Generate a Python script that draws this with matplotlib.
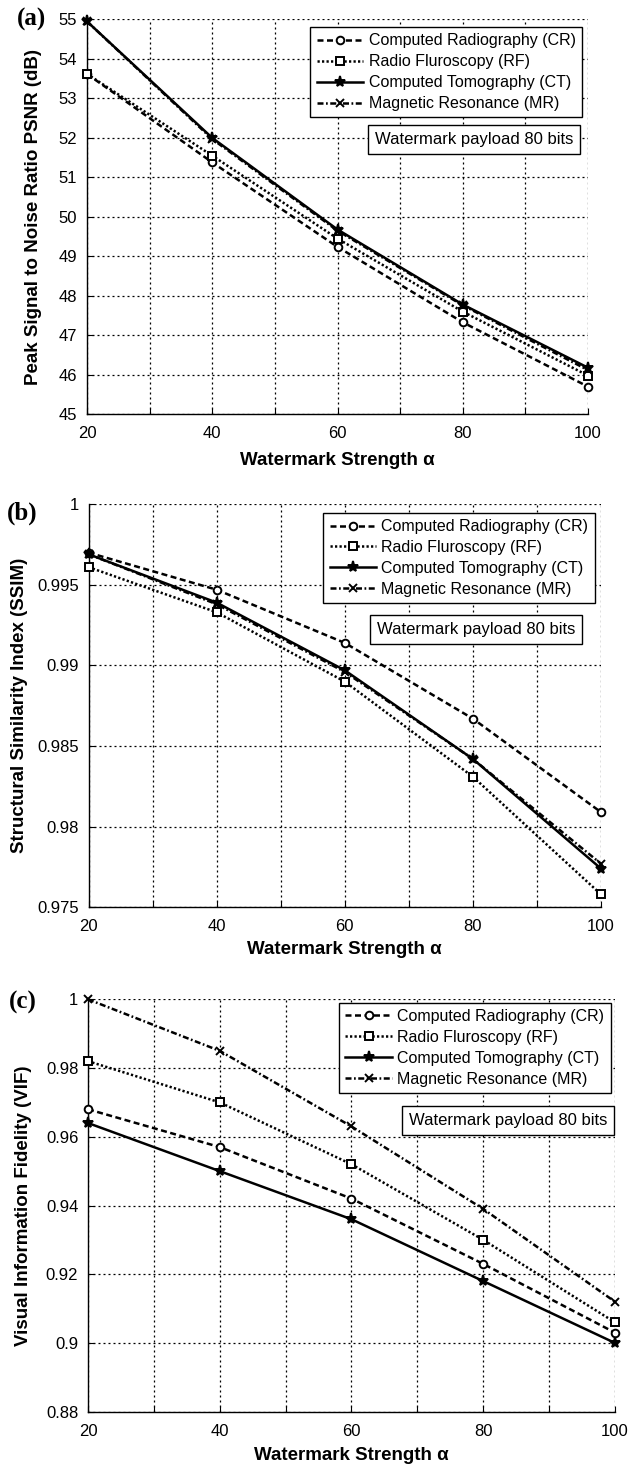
import matplotlib
matplotlib.use("Agg")
import matplotlib.pyplot as plt
from matplotlib.ticker import MultipleLocator, FuncFormatter

plt.rcParams['font.family'] = ['Liberation Sans', 'DejaVu Sans']

alpha = [20, 40, 60, 80, 100]

series_names = ["Computed Radiography (CR)", "Radio Fluroscopy (RF)",
                "Computed Tomography (CT)", "Magnetic Resonance (MR)"]

psnr_cr = [53.62, 51.38, 49.24, 47.33, 45.7]
psnr_rf = [53.62, 51.55, 49.45, 47.6, 45.98]
psnr_ct = [54.95, 52.0, 49.68, 47.78, 46.18]
psnr_mr = [54.95, 51.97, 49.65, 47.76, 46.12]

ssim_cr = [0.9970, 0.9947, 0.9914, 0.9867, 0.9809]
ssim_rf = [0.9961, 0.9933, 0.9890, 0.9831, 0.9758]
ssim_ct = [0.9969, 0.9939, 0.9897, 0.9842, 0.9774]
ssim_mr = [0.9969, 0.9938, 0.9896, 0.9842, 0.9777]

vif_cr = [0.968, 0.957, 0.942, 0.923, 0.903]
vif_rf = [0.982, 0.970, 0.952, 0.930, 0.906]
vif_ct = [0.964, 0.950, 0.936, 0.918, 0.900]
vif_mr = [1.000, 0.985, 0.963, 0.939, 0.912]

styles = [
    dict(linestyle=(0, (2.4, 1.4)), marker='o', markersize=5.5, markerfacecolor='white'),
    dict(linestyle=(0, (0.9, 0.9)), marker='s', markersize=6, markerfacecolor='white'),
    dict(linestyle='-', marker='*', markersize=8, markerfacecolor='black'),
    dict(linestyle=(0, (2.4, 1.0, 0.7, 1.0)), marker='x', markersize=6),
]

fig = plt.figure(figsize=(6.39, 14.65), dpi=100)

panels = [
    dict(rect=[0.1362, 0.7172, 0.784, 0.2695], data=[psnr_cr, psnr_rf, psnr_ct, psnr_mr],
         ylim=(45, 55), ystep=1, ylabel="Peak Signal to Noise Ratio PSNR (dB)",
         letter="(a)", fmt=lambda v: "%d" % round(v),
         leg=(0.988, 0.981), box=(0.970, 0.696), ylx=-0.106, xly=-0.116,
         letter_xy=(17, 19)),
    dict(rect=[0.1385, 0.3807, 0.802, 0.2751], data=[ssim_cr, ssim_rf, ssim_ct, ssim_mr],
         ylim=(0.975, 1.0), ystep=0.005, ylabel="Structural Similarity Index (SSIM)",
         letter="(b)", fmt=lambda v: ("%.3f" % v).rstrip('0').rstrip('.'),
         leg=(0.988, 0.979), box=(0.950, 0.688), ylx=-0.134, xly=-0.106,
         letter_xy=(7, 513)),
    dict(rect=[0.1377, 0.03638, 0.8247, 0.2815], data=[vif_cr, vif_rf, vif_ct, vif_mr],
         ylim=(0.88, 1.0), ystep=0.02, ylabel="Visual Information Fidelity (VIF)",
         letter="(c)", fmt=lambda v: ("%.2f" % v).rstrip('0').rstrip('.'),
         leg=(0.992, 0.992), box=(0.985, 0.707), ylx=-0.123, xly=-0.105,
         letter_xy=(9, 1002)),
]

W, H = 639.0, 1465.0

for p in panels:
    ax = fig.add_axes(p["rect"])
    for vals, name, st in zip(p["data"], series_names, styles):
        ax.plot(alpha, vals, color='black', linewidth=1.8, markeredgewidth=1.4,
                label=name, clip_on=False, zorder=3, **st)
    ax.set_xlim(20, 100)
    ax.set_ylim(*p["ylim"])
    ax.xaxis.set_major_locator(MultipleLocator(10))
    ax.xaxis.set_major_formatter(FuncFormatter(lambda v, pos: "%d" % v if int(round(v)) % 20 == 0 else ""))
    ax.yaxis.set_major_locator(MultipleLocator(p["ystep"]))
    f = p["fmt"]
    ax.yaxis.set_major_formatter(FuncFormatter(lambda v, pos, f=f: f(v)))
    ax.grid(True, color='black', linestyle=(0, (1.6, 2.4)), linewidth=0.9)
    for s in ['top', 'right']:
        ax.spines[s].set_visible(False)
    for s in ['left', 'bottom']:
        ax.spines[s].set_linewidth(1.0)
    ax.tick_params(direction='in', length=4, width=0.8, labelsize=12)
    ax.tick_params(axis='x', pad=8.5)
    ax.tick_params(axis='y', pad=7)
    ax.set_xlabel("Watermark Strength \u03b1", fontsize=13.5, fontweight='bold')
    ax.xaxis.set_label_coords(0.5, p["xly"])
    ax.xaxis.label.set_verticalalignment('center')
    ax.set_ylabel(p["ylabel"], fontsize=13.5, fontweight='bold')
    ax.yaxis.set_label_coords(p["ylx"], 0.5)
    ax.yaxis.label.set_verticalalignment('center')
    leg = ax.legend(loc='upper right', bbox_to_anchor=p["leg"], fontsize=11.5,
                    frameon=True, fancybox=False, edgecolor='black', framealpha=1,
                    handlelength=2.9, handletextpad=0.35, borderpad=0.4, labelspacing=0.37,
                    borderaxespad=0.0)
    leg.get_frame().set_linewidth(1.0)
    leg.set_zorder(5)
    ax.text(p["box"][0], p["box"][1], "Watermark payload 80 bits", transform=ax.transAxes,
            ha='right', va='center', fontsize=12, zorder=5,
            bbox=dict(boxstyle='square,pad=0.42', facecolor='white', edgecolor='black', linewidth=1.0))
    fig.text(p["letter_xy"][0] / W, 1 - p["letter_xy"][1] / H, p["letter"], ha='left', va='center',
             fontsize=18, fontweight='bold', family='Liberation Serif')

fig.savefig("out.png", dpi=100)
